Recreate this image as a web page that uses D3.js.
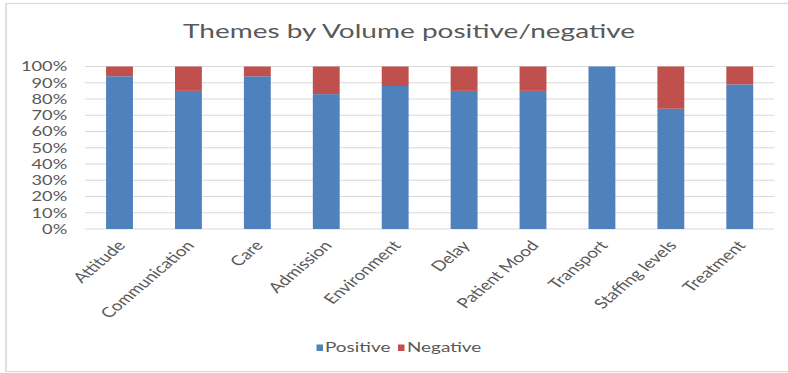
<!DOCTYPE html>
<html>
<head>
<meta charset="utf-8">
<script src="https://cdn.jsdelivr.net/npm/d3@7"></script>
<style>
  html, body { margin: 0; padding: 0; background: #fff; }
  svg { display: block; }
  text { font-family: Lato, "Open Sans", sans-serif; fill: #595959; }
</style>
</head>
<body>
<div id="chart"></div>
<script>
// Share of comments per theme (percent of total volume)
const categories = ["Attitude", "Communication", "Care", "Admission", "Environment",
                    "Delay", "Patient Mood", "Transport", "Staffing levels", "Treatment"];
const positive = [94, 85, 94, 83, 88, 85, 85, 100, 74, 89];
const negative = [6, 15, 6, 17, 12, 15, 15, 0, 26, 11];
const seriesNames = ["Positive", "Negative"];
const yTicks = [0, 10, 20, 30, 40, 50, 60, 70, 80, 90, 100];
const title = "Themes by Volume positive/negative";

const W = 788, H = 373;
const SX = 1.35;                 // horizontal stretch of the drawing
const BW = W / SX;               // drawing width in user units

const colors = { Positive: "#4f81bd", Negative: "#c0504d" };

const svg = d3.select("#chart").append("svg")
  .attr("width", W).attr("height", H)
  .attr("viewBox", `0 0 ${BW} ${H}`)
  .attr("preserveAspectRatio", "none");

// outer frame
svg.append("rect")
  .attr("x", 6 / SX).attr("y", 3.5)
  .attr("width", BW).attr("height", 368)
  .attr("fill", "#fff").attr("stroke", "#d9d9d9").attr("stroke-width", 1.2);

const plot = { left: 63, right: 573.5, top: 66.5, bottom: 229 };

const x = d3.scaleBand()
  .domain(categories)
  .range([plot.left, plot.right])
  .paddingInner(0.61)
  .paddingOuter(0.305);

const y = d3.scaleLinear().domain([0, 100]).range([plot.bottom, plot.top]);

// gridlines
svg.append("g").selectAll("line")
  .data(yTicks)
  .join("line")
  .attr("x1", plot.left).attr("x2", plot.right)
  .attr("y1", d => y(d)).attr("y2", d => y(d))
  .attr("stroke", "#d9d9d9").attr("stroke-width", 1);

// y axis labels
const yAxis = d3.axisLeft(y)
  .tickValues(yTicks)
  .tickFormat(d => d + "%")
  .tickSize(0)
  .tickPadding(0);
const yg = svg.append("g")
  .attr("transform", `translate(${49.8},0)`)
  .call(yAxis);
yg.select(".domain").remove();
yg.selectAll("text")
  .attr("font-size", 13.5)
  .style("font-family", "Lato, 'Open Sans', sans-serif")
  .attr("fill", "#595959");

// stacked bars
const rows = categories.map((c, i) => ({ cat: c, Positive: positive[i], Negative: negative[i] }));
const stacked = d3.stack().keys(seriesNames)(rows);

svg.append("g").selectAll("g")
  .data(stacked)
  .join("g")
  .attr("fill", d => colors[d.key])
  .selectAll("rect")
  .data(d => d)
  .join("rect")
  .attr("x", d => x(d.data.cat))
  .attr("width", x.bandwidth())
  .attr("y", d => y(d[1]))
  .attr("height", d => y(d[0]) - y(d[1]));

// category labels, rotated
svg.append("g").selectAll("text")
  .data(categories)
  .join("text")
  .attr("transform", d => `translate(${x(d) + x.bandwidth() / 2 + 5},${246}) rotate(-49)`)
  .attr("text-anchor", "end")
  .attr("font-size", 14)
  .text(d => d);

// title
svg.append("text")
  .attr("x", 409 / SX).attr("y", 38)
  .attr("text-anchor", "middle")
  .attr("font-size", 20)
  .attr("textLength", 452 / SX)
  .attr("lengthAdjust", "spacingAndGlyphs")
  .text(title);

// legend
const legendItems = [
  { name: "Positive", sx: 316.5 / SX, tx: 325 / SX },
  { name: "Negative", sx: 398 / SX, tx: 407 / SX }
];
const lg = svg.append("g");
lg.selectAll("rect")
  .data(legendItems)
  .join("rect")
  .attr("x", d => d.sx).attr("y", 344.5)
  .attr("width", 4.8).attr("height", 6.5)
  .attr("fill", d => colors[d.name]);
lg.selectAll("text")
  .data(legendItems)
  .join("text")
  .attr("x", d => d.tx).attr("y", 352.5)
  .attr("font-size", 14)
  .text(d => d.name);
</script>
</body>
</html>
